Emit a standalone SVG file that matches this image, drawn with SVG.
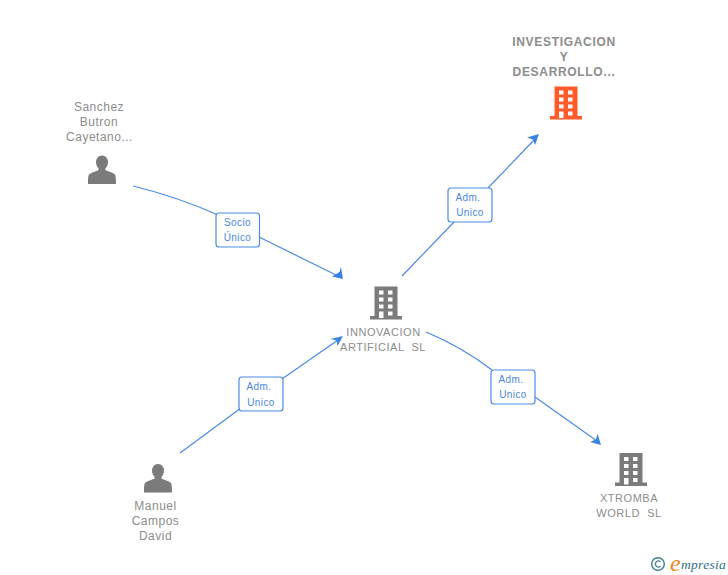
<svg xmlns="http://www.w3.org/2000/svg" xmlns:xlink="http://www.w3.org/1999/xlink" width="728" height="575" viewBox="0 0 728 575">
<style>
text{font-family:"Liberation Sans",Arial,sans-serif;white-space:pre}
.n{font-size:12px;fill:#8c8c8c;text-anchor:middle;letter-spacing:.5px}
.u{font-size:11px;letter-spacing:.55px}
.b{font-size:12px;font-weight:bold;letter-spacing:.68px}
.l{font-size:10px;fill:#4a86de;text-anchor:middle;letter-spacing:.4px}
.c{fill:none;stroke:#4a8ae6;stroke-width:1.2}
.a{fill:#3b82e6}
.r{fill:#fff;stroke:#4a8ae6;stroke-width:1.2}
</style>
<defs>
<path id="person" d="M0-15.500C-4-15.500-6-12-6-9C-6-6-4.800-3.800-3.500-2.800L-3.500-.8C-5-.2-10 1.200-12.500 3C-13.800 4-14 7-14 13H14C14 7 13.800 4 12.500 3C10 1.200 5-.2 3.500-.8L3.500-2.800C4.800-3.800 6-6 6-9C6-12 4-15.500 0-15.500Z" fill="#7b7b7b"/>
<g id="bld">
<path fill-rule="evenodd" d="M-11.500-16.500H11.500V13H16V16.500H-16V13H-11.500ZM-7-12.500V-8.500H-2.500V-12.500ZM2-12.500V-8.500H6.500V-12.500ZM-7-5.500V-1.500H-2.500V-5.500ZM2-5.500V-1.500H6.500V-5.500ZM-7 1.500V5.500H-2.500V1.500ZM2 1.500V5.500H6.500V1.500ZM-7 8.500V15H-2.500V8.500ZM2 8.500V12.500H6.500V8.500Z"/>
</g>
</defs>
<g id="connectors">
<path class="c" d="M133 186Q178 197 218 215"/>
<path class="c" d="M259 237L338 276"/>
<path class="a" d="M343 279L332 276.500L339.500 272L341 267Z"/>
<path class="c" d="M180 453L241 408"/>
<path class="c" d="M282 379L338 340"/>
<path class="a" d="M343 336L337.500 346L336.500 340.500L330.500 339Z"/>
<path class="c" d="M402 276L455 221"/>
<path class="c" d="M488 188L535 139"/>
<path class="a" d="M539 134L535 145L533 139.500L527 137.500Z"/>
<path class="c" d="M426 332Q462 347 492 370"/>
<path class="c" d="M535 397L597 441"/>
<path class="a" d="M601 445L590 442L596 439.500L597.500 433.500Z"/>
</g>
<g id="edge-labels">
<g><rect class="r" x="216" y="213" width="43.500" height="34" rx="3"/><text class="l" x="237.500" y="226">Socio</text><text class="l" x="237.500" y="241">Único</text></g>
<g><rect class="r" x="448" y="188" width="44" height="34" rx="3"/><text class="l" x="468" y="201">Adm.</text><text class="l" x="470" y="216">Unico</text></g>
<g><rect class="r" x="239" y="377" width="44" height="34" rx="3"/><text class="l" x="259" y="390">Adm.</text><text class="l" x="261" y="406">Unico</text></g>
<g><rect class="r" x="491" y="370" width="44" height="34" rx="3"/><text class="l" x="511" y="383">Adm.</text><text class="l" x="513" y="398">Unico</text></g>
</g>
<g id="node-investigacion">
<text class="n b" x="564" y="46">INVESTIGACION</text><text class="n b" x="564" y="61">Y</text><text class="n b" x="564" y="76">DESARROLLO...</text>
<use href="#bld" x="566" y="103" fill="#ff5a2b"/>
</g>
<g id="node-sanchez">
<text class="n" x="99" y="111">Sanchez</text><text class="n" x="99" y="126">Butron</text><text class="n" x="99.500" y="141">Cayetano...</text>
<use href="#person" x="102" y="171"/>
</g>
<g id="node-innovacion">
<use href="#bld" x="386" y="303" fill="#7b7b7b"/>
<text class="n u" x="383.500" y="336">INNOVACION</text><text class="n u" x="383" y="351">ARTIFICIAL  SL</text>
</g>
<g id="node-manuel">
<use href="#person" x="158" y="479.500"/>
<text class="n" x="155.500" y="510">Manuel</text><text class="n" x="155.500" y="525">Campos</text><text class="n" x="155.500" y="540">David</text>
</g>
<g id="node-xtromba">
<use href="#bld" x="631" y="469.500" fill="#7b7b7b"/>
<text class="n u" x="629" y="502">XTROMBA</text><text class="n u" x="629" y="517">WORLD  SL</text>
</g>
<g id="watermark">
<circle cx="658" cy="564" r="6.300" fill="none" stroke="#3f7f93" stroke-width="1.400"/>
<path d="M660.500 561.800A3 3 0 1 0 660.500 566.200" fill="none" stroke="#3f7f93" stroke-width="1.200"/>
<text x="670" y="571" font-size="24" font-style="italic" style="font-family:'Liberation Serif',serif" fill="#f0851a">e</text>
<text x="681" y="569" font-size="13.500" font-style="italic" style="font-family:'Liberation Serif',serif" fill="#2d6f8a" letter-spacing=".3">mpresia</text>
</g>
</svg>
